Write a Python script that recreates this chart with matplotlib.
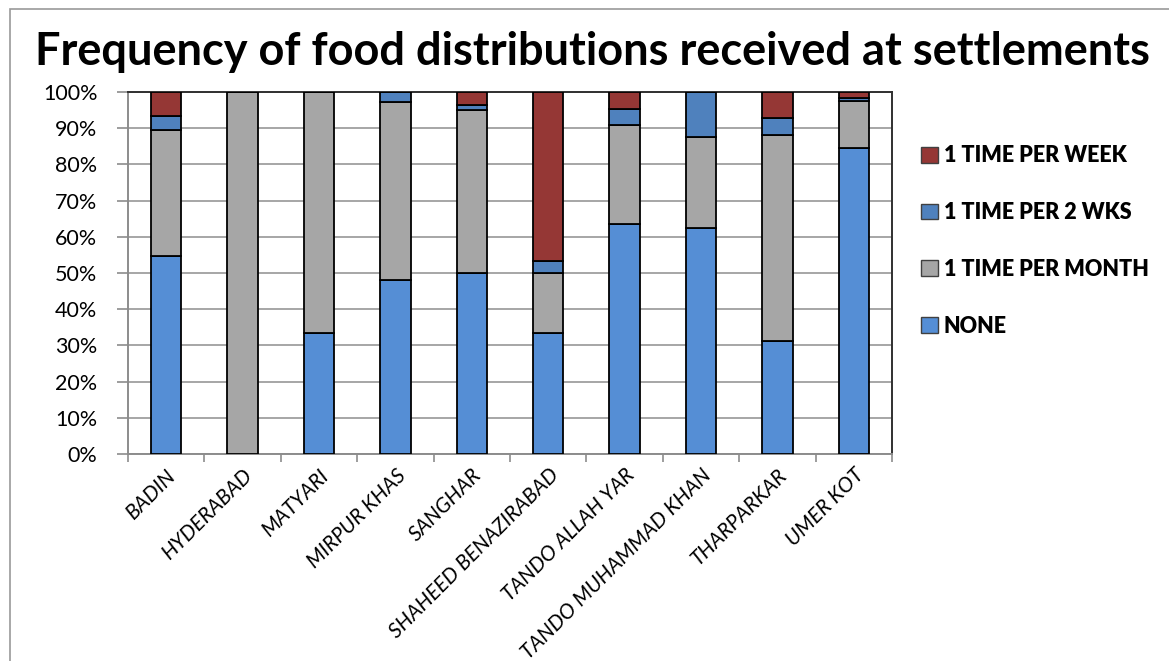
import numpy as np
import matplotlib
matplotlib.use("Agg")
import matplotlib.pyplot as plt
from matplotlib.patches import Patch, Rectangle

# Settlements (x axis)
districts = ["BADIN", "HYDERABAD", "MATYARI", "MIRPUR KHAS", "SANGHAR",
             "SHAHEED BENAZIRABAD", "TANDO ALLAH YAR", "TANDO MUHAMMAD KHAN",
             "THARPARKAR", "UMER KOT"]

# Share of settlements per frequency (%)
none_pct = [54.8, 0.0, 33.3, 48.0, 50.0, 33.3, 63.6, 62.5, 31.2, 84.6]
month_pct = [34.6, 100.0, 66.7, 49.1, 45.1, 16.7, 27.3, 25.0, 56.9, 12.8]
two_wks_pct = [3.9, 0.0, 0.0, 2.9, 1.4, 3.3, 4.5, 12.5, 4.6, 0.9]
week_pct = [6.7, 0.0, 0.0, 0.0, 3.5, 46.7, 4.6, 0.0, 7.3, 1.7]

series = [
    ("NONE", none_pct, "#558ED5"),
    ("1 TIME PER MONTH", month_pct, "#A6A6A6"),
    ("1 TIME PER 2 WKS", two_wks_pct, "#4F81BD"),
    ("1 TIME PER WEEK", week_pct, "#953735"),
]

FONT = ["Lato", "DejaVu Sans"]
plt.rcParams["font.family"] = FONT

fig = plt.figure(figsize=(11.69, 6.61), dpi=100)
fig.patches.append(Rectangle((10 / 1169, -0.1), 1.2, 1.1 - 9 / 661,
                             transform=fig.transFigure, fill=False,
                             edgecolor="#9A9A9A", linewidth=1.2))

ax = fig.add_axes([128 / 1169, 1 - 454 / 661, (892 - 128) / 1169, (454 - 92) / 661])

x = np.arange(len(districts))
bottom = np.zeros(len(districts))
handles = {}
for label, vals, color in series:
    vals = np.array(vals)
    ax.bar(x, vals, bottom=bottom, width=0.4, color=color,
           edgecolor="black", linewidth=1.3, zorder=3)
    handles[label] = Patch(facecolor=color, edgecolor="#404040", linewidth=1.0)
    bottom += vals

ax.set_xlim(-0.5, len(districts) - 0.5)
ax.set_ylim(0, 100)
ax.set_yticks(np.arange(0, 101, 10))
ax.set_yticklabels([f"{v}%" for v in range(0, 101, 10)], fontsize=15.5)
ax.yaxis.grid(True, color="#A6A6A6", linewidth=1.4, zorder=0)
ax.set_axisbelow(True)

# category labels at bar centres, tick marks at category boundaries
ax.set_xticks(x)
ax.set_xticklabels(districts, rotation=45, ha="right", rotation_mode="anchor",
                   fontsize=15, fontstyle="italic")
ax.tick_params(axis="x", which="major", length=0, pad=8)
ax.set_xticks(np.arange(-0.5, len(districts)), minor=True)
ax.tick_params(axis="x", which="minor", length=6, width=1.2, color="#8C8C8C")
ax.tick_params(axis="y", length=8, width=1.2, color="#8C8C8C", pad=14)

for side in ["left", "bottom"]:
    ax.spines[side].set_color("#8C8C8C")
    ax.spines[side].set_linewidth(1.4)
for side in ["top", "right"]:
    ax.spines[side].set_color("#303030")
    ax.spines[side].set_linewidth(1.4)

order = ["1 TIME PER WEEK", "1 TIME PER 2 WKS", "1 TIME PER MONTH", "NONE"]
fig.legend([handles[k] for k in order], order, loc="upper left",
           bbox_to_anchor=(902 / 1169, 1 - 126 / 661), frameon=False,
           prop={"weight": "heavy", "size": 15.5}, handlelength=0.75,
           handleheight=0.75, handletextpad=0.3, labelspacing=1.66)

fig.text(0.5 * (38 + 1147) / 1169, 1 - 52 / 661,
         "Frequency of food distributions received at settlements",
         ha="center", va="center", fontsize=32.5, fontweight="bold")

fig.savefig("out.png", dpi=100)
